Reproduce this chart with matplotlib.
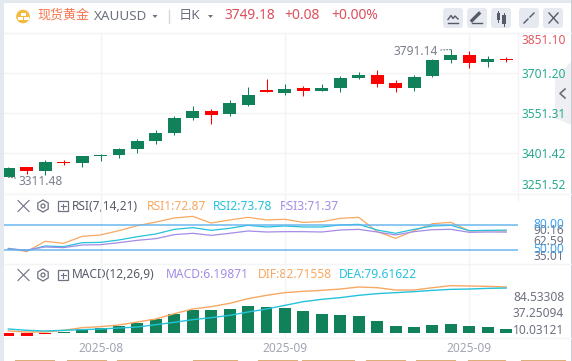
import matplotlib
matplotlib.use('Agg')
import matplotlib.pyplot as plt
from matplotlib.patches import Circle, FancyBboxPatch, Polygon, RegularPolygon, Rectangle

plt.rcParams['font.family'] = ['Noto Sans', 'Noto Sans CJK SC', 'DejaVu Sans']

# daily candles
opens = [3312.7, 3349.0, 3335.1, 3369.2, 3365.1, 3390.4, 3395.1, 3417.6, 3447.5, 3477.5,
         3533.7, 3558.8, 3548.7, 3582.4, 3637.5, 3626.3, 3645.0, 3634.9, 3646.1, 3683.6,
         3693.7, 3663.7, 3646.1, 3691.1, 3751.1, 3768.7, 3743.6, 3755.2]
closes = [3345.3, 3335.1, 3367.7, 3365.1, 3390.2, 3394.4, 3416.4, 3446.4, 3476.4, 3532.6,
          3558.8, 3545.0, 3588.8, 3618.8, 3631.1, 3641.3, 3634.9, 3645.0, 3682.5, 3693.7,
          3661.1, 3646.1, 3686.2, 3749.9, 3768.7, 3739.8, 3753.7, 3751.2]
highs = [3349.0, 3349.0, 3374.1, 3375.2, 3390.2, 3396.6, 3420.2, 3453.9, 3487.6, 3540.1,
         3577.6, 3566.3, 3600.1, 3648.8, 3677.6, 3658.9, 3652.5, 3660.0, 3688.9, 3705.0,
         3712.5, 3675.0, 3692.6, 3754.8, 3791.14, 3783.7, 3766.0, 3760.0]
lows = [3311.48, 3323.9, 3320.1, 3357.6, 3350.1, 3372.6, 3383.8, 3402.6, 3436.3, 3470.1,
        3525.1, 3511.2, 3541.2, 3578.7, 3631.1, 3618.8, 3616.2, 3634.9, 3631.1, 3679.9,
        3649.9, 3630.0, 3633.8, 3686.2, 3739.8, 3721.1, 3724.8, 3741.3]

rsi1 = [51.7, 47.6, 60.2, 57.7, 66.2, 67.9, 73.1, 79.2, 83.6, 88.5, 90.5, 82.4, 86.1, 89.3,
        86.1, 86.9, 83.2, 84.0, 88.1, 89.3, 71.9, 63.8, 73.1, 81.6, 83.2, 72.7, 73.1, 72.87]
rsi2 = [51.3, 48.8, 54.5, 53.7, 58.5, 58.9, 61.8, 65.8, 69.1, 74.7, 76.8, 73.5, 76.0, 79.6,
        77.6, 78.8, 77.6, 77.6, 80.0, 80.8, 73.9, 69.9, 74.7, 78.8, 79.6, 73.1, 73.5, 73.78]
rsi3 = [50.9, 49.6, 53.3, 52.5, 55.7, 56.1, 58.5, 61.4, 63.4, 68.3, 69.9, 67.4, 69.9, 72.7,
        71.5, 71.9, 71.9, 71.5, 73.9, 74.7, 71.5, 67.9, 71.9, 74.3, 74.7, 71.1, 71.5, 71.37]

macd = [-4.8, -4.8, -1.2, 1.2, 7.2, 9.6, 12.6, 18.0, 25.1, 34.1, 41.9, 41.3, 43.1, 48.5,
        46.7, 44.9, 39.5, 34.1, 32.3, 30.5, 21.6, 12.6, 10.8, 14.4, 16.2, 12.6, 10.8, 7.2]
dif = [3.6, 1.8, 1.8, 4.8, 9.6, 11.4, 14.4, 19.8, 25.1, 34.7, 43.1, 47.3, 53.3, 61.7,
       67.7, 72.5, 74.9, 76.6, 79.0, 82.6, 81.4, 77.2, 77.2, 81.4, 85.0, 84.4, 83.8, 82.72]
dea = [7.2, 4.8, 3.6, 4.8, 6.0, 7.2, 9.0, 10.8, 15.0, 19.2, 24.0, 27.5, 31.7, 37.7,
       43.1, 49.7, 56.3, 60.5, 63.5, 67.7, 70.7, 72.5, 74.3, 76.6, 78.4, 79.0, 80.2, 80.8]

price_ticks = [3251.52, 3401.42, 3551.31, 3701.20, 3851.10]
date_pos = [5, 15, 25]
date_labels = ['2025-08', '2025-09', '2025-09']

GREEN = '#11815a'
RED = '#ff0000'
GRID = '#f3f4f8'
ORANGE = '#f7a862'
CYAN = '#25c2dc'
PURPLE = '#a48ce6'
GRAY = '#6d7180'
W, H = 572, 361
xs = list(range(len(closes)))
xlim = (-0.233, 27.62)


def panel(top, bottom):
    ax = fig.add_axes([4 / W, 1 - bottom / H, (517.7 - 4) / W, (bottom - top) / H])
    ax.set_xlim(*xlim)
    ax.patch.set_alpha(0)
    for s in ax.spines.values():
        s.set_visible(False)
    ax.set_xticks(date_pos)
    ax.tick_params(length=0, labelbottom=False, labelleft=False)
    ax.grid(axis='x', color=GRID, lw=1)
    ax.set_axisbelow(True)
    return ax


fig = plt.figure(figsize=(W / 100, H / 100), dpi=100, facecolor='white')

# page frame, header and other furniture in pixel coordinates
bg = fig.add_axes([0, 0, 1, 1])
bg.set_xlim(0, W)
bg.set_ylim(H, 0)
bg.axis('off')
bg.add_patch(Rectangle((0, 0), W, 3, color='#e4e8ef', lw=0))
bg.add_patch(Rectangle((0, 0), 4, H, color='#e4e8ef', lw=0))
bg.add_patch(Rectangle((571, 0), 1, H, color='#c9ccd3', lw=0))
for y, x1 in [(33, W), (194, W), (264.3, W), (338.3, W)]:
    bg.plot([4, x1], [y, y], color=GRID, lw=1)
bg.plot([517.7, 517.7], [33, 200], color=GRID, lw=1)

bg.add_patch(Circle((23, 16.5), 6.8, color='#f1bb41', lw=0))
bg.add_patch(Rectangle((20.5, 12.5), 5, 3, color='white', lw=0))
bg.add_patch(Rectangle((17.5, 16.5), 5, 3, color='white', lw=0))
bg.add_patch(Rectangle((23.5, 16.5), 5, 3, color='white', lw=0))
bg.text(37.5, 15.5, '现货黄金', color='#f6764e', fontsize=9.4, va='center')
bg.text(93.5, 16.5, 'XAUUSD', color=GRAY, fontsize=9.7, va='center')
bg.add_patch(Polygon([(152.5, 15), (157.5, 15), (155, 18)], color=GRAY, lw=0))
bg.plot([169, 169], [10, 23], color='#d5d8df', lw=1)
bg.text(179, 15.5, '日K', color=GRAY, fontsize=9.6, va='center')
bg.add_patch(Polygon([(208, 15), (213, 15), (210.5, 18)], color=GRAY, lw=0))
bg.text(224.5, 15.5, '3749.18', color='#dc4f5c', fontsize=9.9, va='center', fontweight='bold')
bg.text(284, 15.5, '+0.08', color='#dc4f5c', fontsize=10, va='center', fontweight='medium')
bg.text(331, 15.5, '+0.00%', color='#dc4f5c', fontsize=10, va='center', fontweight='medium')

for bx in [443, 467, 491, 519, 543]:
    bg.add_patch(FancyBboxPatch((bx + 2, 10), 16, 16, boxstyle='round,pad=2,rounding_size=3',
                                color='#e6e9f0', lw=0))
bg.plot([448, 458], [22.5, 22.5], color='#555a68', lw=1)
bg.plot([448, 451, 453, 455, 458], [19.5, 15.5, 18.5, 16, 19], color='#555a68', lw=1)
bg.plot([472, 479], [20.5, 13.5], color='#555a68', lw=2.4)
bg.plot([472, 482], [23, 23], color='#555a68', lw=1)
bg.add_patch(Rectangle((496.5, 13), 3.5, 7, color='#555a68', lw=0))
bg.add_patch(Rectangle((502, 15), 3.5, 9, color='#555a68', lw=0))
bg.plot([498.3, 498.3], [11, 22], color='#555a68', lw=0.7)
bg.plot([503.8, 503.8], [13, 26], color='#555a68', lw=0.7)
bg.plot([524, 528], [23, 19], color='#555a68', lw=1)
bg.plot([530, 534], [17, 13], color='#555a68', lw=1)
bg.plot([549, 558], [13, 23], color='#555a68', lw=1)
bg.plot([549, 558], [23, 13], color='#555a68', lw=1)

# panel headers
for ypos, name, parts in [
    (206, 'RSI(7,14,21)', [(147, 'RSI1:72.87', ORANGE), (213, 'RSI2:73.78', CYAN), (280, 'RSI3:71.37', PURPLE)]),
    (275, 'MACD(12,26,9)', [(166, 'MACD:6.19871', PURPLE), (258, 'DIF:82.71558', ORANGE), (339, 'DEA:79.61622', CYAN)]),
]:
    bg.plot([18, 29], [ypos - 5.5, ypos + 5.5], color=GRAY, lw=0.8)
    bg.plot([18, 29], [ypos + 5.5, ypos - 5.5], color=GRAY, lw=0.8)
    bg.add_patch(RegularPolygon((43, ypos), 6, radius=6, fill=False, ec=GRAY, lw=0.9))
    bg.add_patch(Circle((43, ypos), 2, fill=False, ec=GRAY, lw=0.9))
    bg.add_patch(Rectangle((58, ypos - 5), 10, 10, fill=False, ec=GRAY, lw=0.9))
    bg.plot([60.5, 65.5], [ypos, ypos], color=GRAY, lw=0.8)
    bg.plot([63, 63], [ypos - 2.5, ypos + 2.5], color=GRAY, lw=0.8)
    bg.text(72, ypos, name, color='#565b69', fontsize=8.6, va='center')
    for px, txt, col in parts:
        bg.text(px, ypos, txt, color=col, fontsize=8.7, va='center')

# price axis labels
for ypos, txt, col in [(40, '3851.10', '#e05a63'), (74.7, '3701.20', '#27aa90'), (114, '3551.31', '#27aa90'),
                       (155, '3401.42', '#27aa90'), (185.6, '3251.52', '#27aa90')]:
    bg.text(521, ypos, txt, color=col, fontsize=8.6, va='center')

# RSI labels
for ypos, txt, col in [(230, '90.16', GRAY), (241.7, '62.59', GRAY), (256, '35.01', GRAY),
                       (225, '80.00', '#3fa4ef'), (249.7, '50.00', '#3fa4ef')]:
    bg.text(564, ypos, txt, color=col, fontsize=8.6, va='center', ha='right')

# MACD labels
for ypos, txt in [(297.7, '84.53308'), (313.7, '37.25094'), (330, '10.03121')]:
    bg.text(564, ypos, txt, color=GRAY, fontsize=8.6, va='center', ha='right')

# collapse tab and the cut off buttons along the bottom
bg.add_patch(Polygon([(555, 78), (571, 62), (571, 125), (555, 118)], color='#e9eaef', alpha=0.75, lw=0))
bg.plot([565, 560, 565], [89, 93.5, 98], color='#6b6f7c', lw=1.2)
for x0, x1 in [(15, 55), (67, 107), (117, 160), (193, 238), (258, 298), (302, 355),
               (366, 406), (416, 456), (468, 506), (521, 566)]:
    bg.add_patch(Rectangle((x0, 360), x1 - x0, 1, color='#dcae78', lw=0))

# candles
ax = panel(33, 193)
ax.set_ylim(price_ticks[0], price_ticks[-1])
ax.set_yticks(price_ticks)
ax.grid(axis='y', color=GRID, lw=1)
for i in xs:
    col = GREEN if closes[i] >= opens[i] else RED
    ax.vlines(i, lows[i], highs[i], color=col, lw=0.75)
    ax.bar(i, abs(closes[i] - opens[i]), bottom=min(opens[i], closes[i]), width=0.7, color=col, lw=0)

hi = highs.index(max(highs))
lo = lows.index(min(lows))
ax.annotate(f'{highs[hi]:.2f}', xy=(hi, highs[hi] - 2), xytext=(-13, -1.5), textcoords='offset pixels',
            ha='right', va='center', color='#7b7f8c', fontsize=8.6,
            arrowprops=dict(arrowstyle='-', linestyle=':', color='#7b7f8c', lw=0.8, shrinkA=0, shrinkB=0))
ax.annotate(f'{lows[lo]:.2f}', xy=(lo, lows[lo]), xytext=(10, -5), textcoords='offset pixels',
            ha='left', va='center', color='#7b7f8c', fontsize=8.6,
            arrowprops=dict(arrowstyle='-', linestyle=':', color='#7b7f8c', lw=0.8, shrinkA=0, shrinkB=0))

# RSI
ax2 = panel(194.3, 264)
ax2.set_ylim(32.6, 117.3)
ax2.plot(xs, rsi1, color=ORANGE, lw=0.9)
ax2.plot(xs, rsi2, color=CYAN, lw=0.9)
ax2.plot(xs, rsi3, color=PURPLE, lw=0.9)
for level in [80, 50]:
    ax2.axhline(level, color='#5fb2ef', lw=1.2, alpha=0.85, zorder=3)

# MACD
ax3 = panel(264.3, 338.3)
ax3.set_ylim(-9.5, 123.4)
ax3.bar(xs, macd, width=0.65, color=[GREEN if v >= 0 else RED for v in macd], lw=0)
ax3.plot(xs, dif, color=ORANGE, lw=1)
ax3.plot(xs, dea, color=CYAN, lw=1)
ax3.set_xticklabels(date_labels)
ax3.tick_params(labelbottom=True, labelcolor='#a3a6b2', labelsize=8.6, pad=2.5)

fig.savefig('out.png', dpi=100)
